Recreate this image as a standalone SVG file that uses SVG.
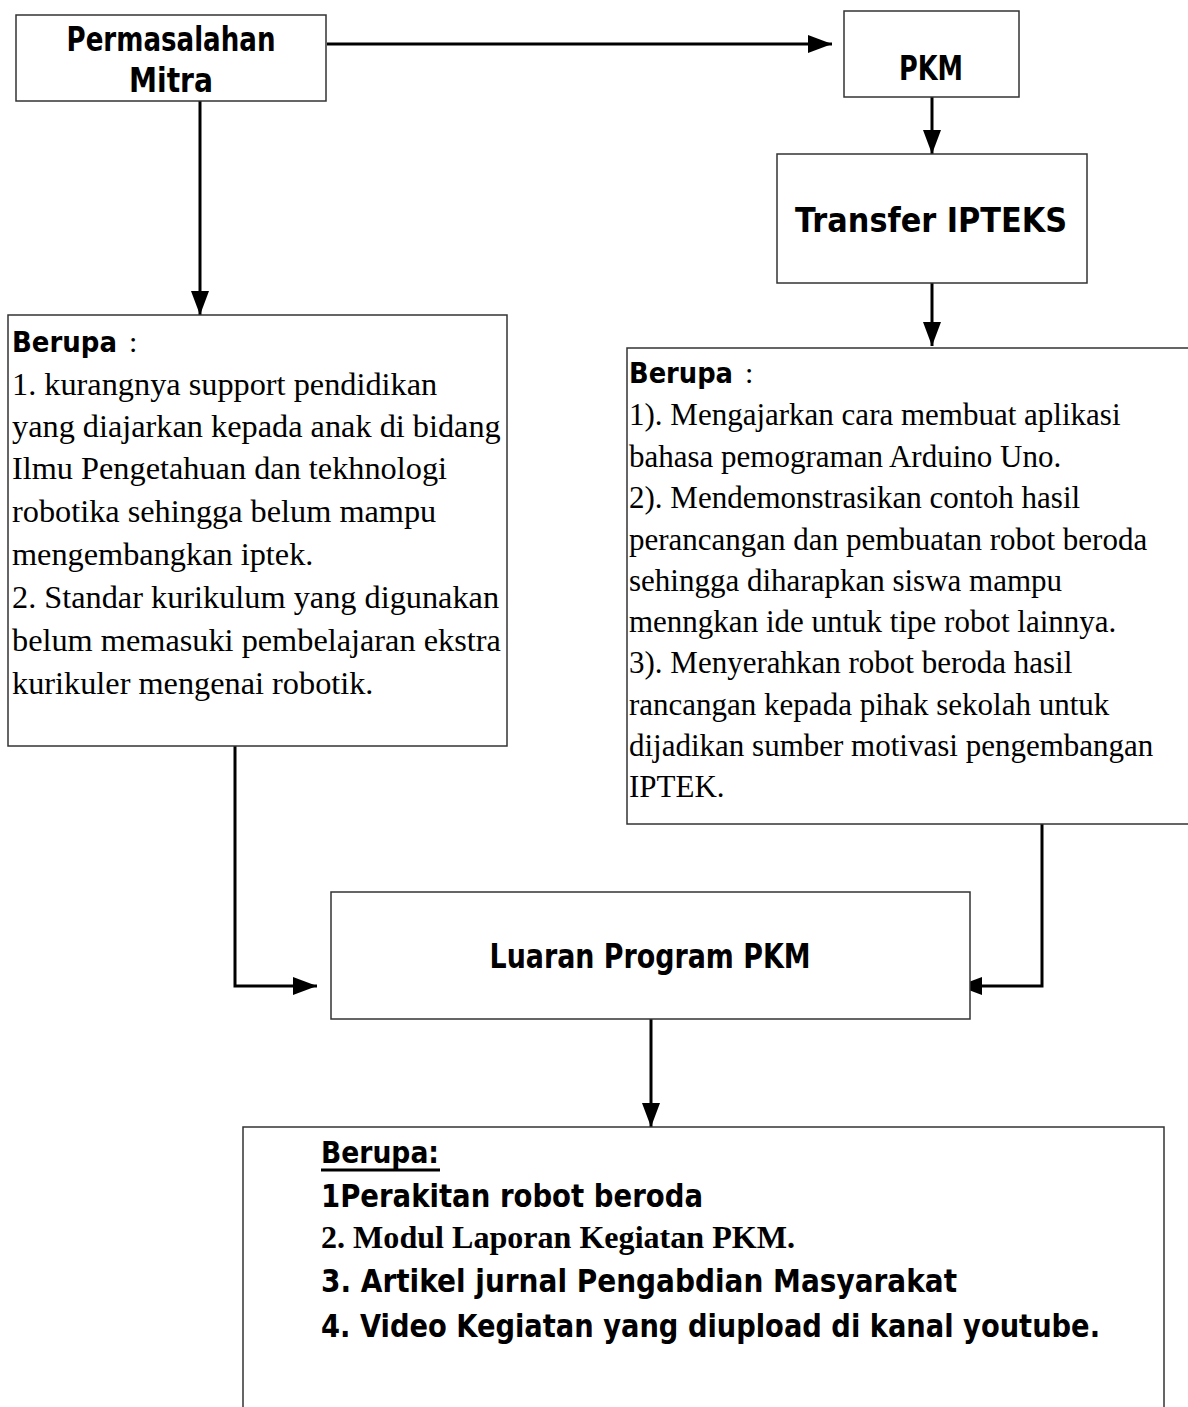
<svg xmlns="http://www.w3.org/2000/svg" width="1188" height="1407" viewBox="0 0 1188 1407">
  <defs>
    <style>
      .box { fill: #ffffff; stroke: #333333; stroke-width: 1.5; }
      .conn { fill: none; stroke: #000000; stroke-width: 3; }
      .lbl { font-family: "DejaVu Sans", "Liberation Sans", sans-serif; font-weight: bold; fill: #000; }
      .bodyL { font-family: "Liberation Serif", "Times New Roman", serif; fill: #000; font-size: 32.3px; }
      .bodyR { font-family: "Liberation Serif", "Times New Roman", serif; fill: #000; font-size: 31px; }
      .colon { font-family: "Liberation Serif", serif; font-weight: normal; font-size: 30px; fill: #000; }
    </style>
    <marker id="ah" viewBox="0 0 24 18" refX="24" refY="9" markerWidth="24" markerHeight="18" markerUnits="userSpaceOnUse" orient="auto">
      <path d="M0,0 L24,9 L0,18 Z" fill="#000"/>
    </marker>
  </defs>
  <rect width="1188" height="1407" fill="#ffffff"/>

  <g id="connectors">
    <line class="conn" x1="327" y1="44" x2="832" y2="44" marker-end="url(#ah)"/>
    <line class="conn" x1="932" y1="88" x2="932" y2="154" marker-end="url(#ah)"/>
    <line class="conn" x1="932" y1="283" x2="932" y2="346" marker-end="url(#ah)"/>
    <line class="conn" x1="200" y1="101" x2="200" y2="315" marker-end="url(#ah)"/>
    <polyline class="conn" points="235,746 235,986 317,986" marker-end="url(#ah)"/>
    <polyline class="conn" points="1042,824 1042,986 958,986" marker-end="url(#ah)"/>
    <line class="conn" x1="651" y1="1019" x2="651" y2="1127" marker-end="url(#ah)"/>
  </g>

  <g id="node-permasalahan">
    <rect class="box" x="16" y="15" width="310" height="86"/>
    <text class="lbl" font-size="34" x="171" y="51" text-anchor="middle" textLength="209" lengthAdjust="spacingAndGlyphs">Permasalahan</text>
    <text class="lbl" font-size="34" x="171" y="92" text-anchor="middle" textLength="84" lengthAdjust="spacingAndGlyphs">Mitra</text>
  </g>

  <g id="node-pkm">
    <rect class="box" x="844" y="11" width="175" height="86"/>
    <text class="lbl" font-size="34" x="931" y="80" text-anchor="middle" textLength="64" lengthAdjust="spacingAndGlyphs">PKM</text>
  </g>

  <g id="node-transfer">
    <rect class="box" x="777" y="154" width="310" height="129"/>
    <text class="lbl" font-size="34" x="931" y="232" text-anchor="middle" textLength="272" lengthAdjust="spacingAndGlyphs">Transfer IPTEKS</text>
  </g>

  <g id="node-berupa-kiri">
    <rect class="box" x="8" y="315" width="499" height="431"/>
    <text class="lbl" font-size="29" x="12" y="352" textLength="105" lengthAdjust="spacingAndGlyphs">Berupa</text>
    <text class="colon" x="129" y="352">:</text>
    <text class="bodyL" x="12" y="395">1. kurangnya support pendidikan</text>
    <text class="bodyL" x="12" y="437">yang diajarkan kepada anak di bidang</text>
    <text class="bodyL" x="12" y="479">Ilmu Pengetahuan dan tekhnologi</text>
    <text class="bodyL" x="12" y="522">robotika sehingga belum mampu</text>
    <text class="bodyL" x="12" y="565">mengembangkan iptek.</text>
    <text class="bodyL" x="12" y="608">2. Standar kurikulum yang digunakan</text>
    <text class="bodyL" x="12" y="651">belum memasuki pembelajaran ekstra</text>
    <text class="bodyL" x="12" y="694">kurikuler mengenai robotik.</text>
  </g>

  <g id="node-berupa-kanan">
    <rect class="box" x="627" y="348" width="570" height="476"/>
    <text class="lbl" font-size="29" x="629" y="383" textLength="104" lengthAdjust="spacingAndGlyphs">Berupa</text>
    <text class="colon" x="745" y="383">:</text>
    <text class="bodyR" x="629" y="425">1). Mengajarkan cara membuat aplikasi</text>
    <text class="bodyR" x="629" y="467">bahasa pemograman Arduino Uno.</text>
    <text class="bodyR" x="629" y="508">2). Mendemonstrasikan contoh hasil</text>
    <text class="bodyR" x="629" y="550">perancangan dan pembuatan robot beroda</text>
    <text class="bodyR" x="629" y="591">sehingga diharapkan siswa mampu</text>
    <text class="bodyR" x="629" y="632">menngkan ide untuk tipe robot lainnya.</text>
    <text class="bodyR" x="629" y="673">3). Menyerahkan robot beroda hasil</text>
    <text class="bodyR" x="629" y="715">rancangan kepada pihak sekolah untuk</text>
    <text class="bodyR" x="629" y="756">dijadikan sumber motivasi pengembangan</text>
    <text class="bodyR" x="629" y="797">IPTEK.</text>
  </g>

  <g id="node-luaran">
    <rect class="box" x="331" y="892" width="639" height="127"/>
    <text class="lbl" font-size="34" x="650" y="968" text-anchor="middle" textLength="321" lengthAdjust="spacingAndGlyphs">Luaran Program PKM</text>
  </g>

  <g id="node-berupa-bawah">
    <rect class="box" x="243" y="1127" width="921" height="300"/>
    <text class="lbl" font-size="30" x="321" y="1163" textLength="118" lengthAdjust="spacingAndGlyphs">Berupa:</text>
    <line x1="321" y1="1170" x2="440" y2="1170" stroke="#000" stroke-width="3"/>
    <text class="lbl" font-size="32" x="321" y="1207" textLength="382" lengthAdjust="spacingAndGlyphs">1Perakitan robot beroda</text>
    <text x="321" y="1248" font-family="Liberation Serif, 'Times New Roman', serif" font-weight="bold" font-size="32" textLength="474" lengthAdjust="spacingAndGlyphs">2. Modul Laporan Kegiatan PKM.</text>
    <text class="lbl" font-size="32" x="321" y="1292" textLength="636" lengthAdjust="spacingAndGlyphs">3. Artikel jurnal Pengabdian Masyarakat</text>
    <text class="lbl" font-size="32" x="321" y="1337" textLength="779" lengthAdjust="spacingAndGlyphs">4. Video Kegiatan yang diupload di kanal youtube.</text>
  </g>
</svg>
